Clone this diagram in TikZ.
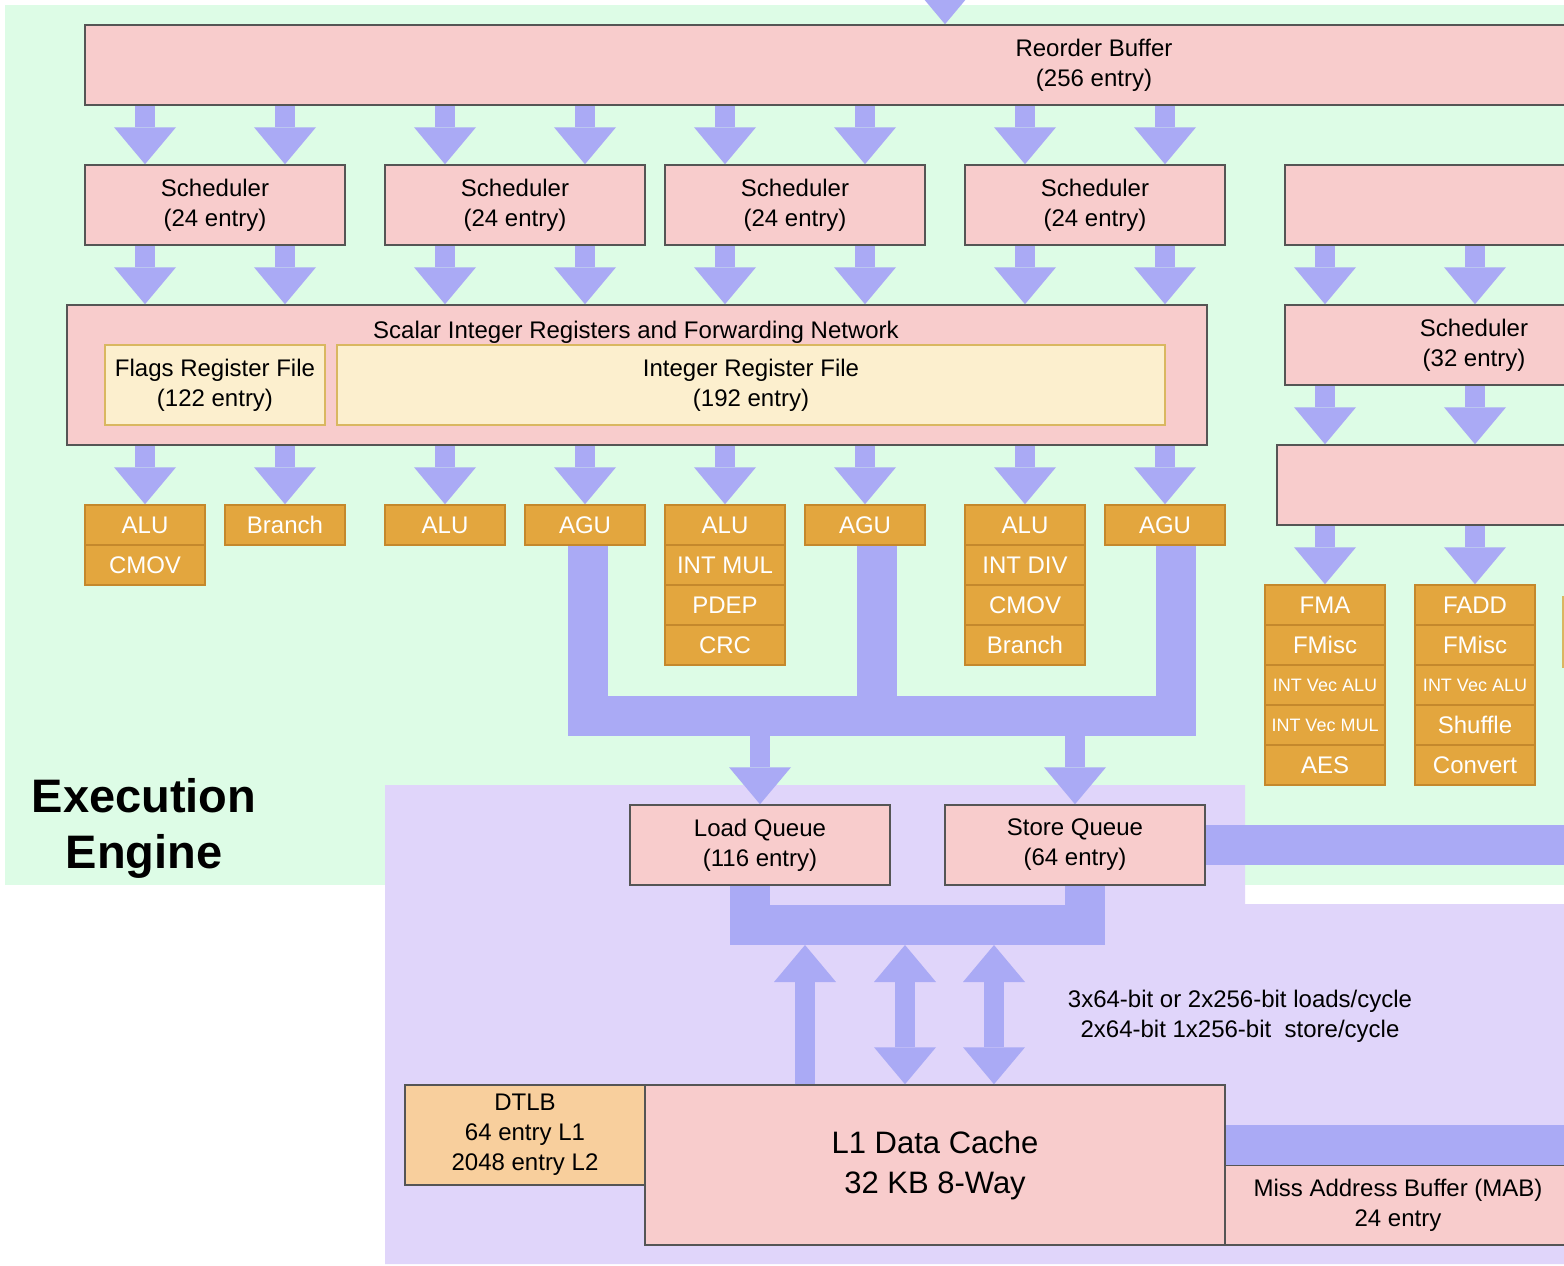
\documentclass[tikz,border=0pt]{standalone}
\usepackage{fontspec}
\setmainfont{Liberation Sans}
\usetikzlibrary{arrows.meta,calc}
\definecolor{bggreen}{HTML}{DDFCE6}
\definecolor{bgpurple}{HTML}{E0D5FA}
\definecolor{pinkc}{HTML}{F8CCCC}
\definecolor{bordc}{HTML}{555555}
\definecolor{unitc}{HTML}{E3A63E}
\definecolor{unitbord}{HTML}{C4882C}
\definecolor{arrc}{HTML}{AAAAF5}
\definecolor{regc}{HTML}{FCEFCE}
\definecolor{regbord}{HTML}{D9B760}
\definecolor{dtlbc}{HTML}{F8CF9D}
\newcommand\fsnorm{\fontsize{24}{30}\selectfont}
\newcommand\fssmall{\fontsize{18}{22}\selectfont}
\newcommand\fsbig{\fontsize{31}{40}\selectfont}
\newcommand\fstitle{\fontsize{47}{56}\selectfont\bfseries}
\begin{document}
\begin{tikzpicture}[x=1pt,y=-1pt,
  pbox/.style={draw=bordc, fill=pinkc, line width=1.5pt, inner sep=0pt, align=center, font=\fsnorm},
  regbox/.style={draw=regbord, fill=regc, line width=1.5pt, inner sep=0pt, align=center, font=\fsnorm, minimum height=80pt},
  unit/.style={draw=unitbord, fill=unitc, text=white, line width=1.5pt, minimum width=120pt, minimum height=40pt, inner sep=0pt, font=\fsnorm},
  sunit/.style={unit, font=\fssmall},
  arr/.style={draw=arrc, line width=20pt, -{Triangle[width=62pt,length=37pt,line width=0pt,fill=arrc]}},
  darr/.style={draw=arrc, line width=20pt, {Triangle[width=62pt,length=37pt,line width=0pt,fill=arrc]}-{Triangle[width=62pt,length=37pt,line width=0pt,fill=arrc]}},
  bus/.style={draw=arrc, line width=40pt, line join=miter}
]
\path[use as bounding box] (0,0) rectangle (1564,1266);
\clip (0,0) rectangle (1564,1266);
\fill[white] (0,0) rectangle (1564,1266);
% regions
\fill[bggreen] (5,5) rectangle (1570,885);
\fill[bgpurple] (385,785) -- (1245,785) -- (1245,904) -- (1570,904) -- (1570,1264) -- (385,1264) -- cycle;

% columns
\foreach \i/\x in {1/145,2/285,3/445,4/585,5/725,6/865,7/1025,8/1165,9/1325,10/1475}
  \coordinate (k\i) at (\x,0);

% main boxes
\node[pbox, minimum width=2018pt, minimum height=80pt] (rob) at (1094,65) {Reorder Buffer\\(256 entry)};
\node[pbox, minimum width=260pt, minimum height=80pt] (s1) at (215,205) {Scheduler\\(24 entry)};
\node[pbox, minimum width=260pt, minimum height=80pt] (s2) at (515,205) {Scheduler\\(24 entry)};
\node[pbox, minimum width=260pt, minimum height=80pt] (s3) at (795,205) {Scheduler\\(24 entry)};
\node[pbox, minimum width=260pt, minimum height=80pt] (s4) at (1095,205) {Scheduler\\(24 entry)};
\node[pbox, minimum width=378pt, minimum height=80pt] (s5) at (1474,205) {};
\node[pbox, minimum width=1140pt, minimum height=140pt] (sir) at (637,375) {};
\node[font=\fsnorm, inner sep=0pt] (sirt) at (636,332) {Scalar Integer Registers and Forwarding Network};
\node[regbox, minimum width=220pt] (flags) at (215,385) {Flags Register File\\(122 entry)};
\node[regbox, minimum width=828pt] (irf) at (751,385) {Integer Register File\\(192 entry)};
\node[pbox, minimum width=378pt, minimum height=80pt] (fsch) at (1474,345) {Scheduler\\(32 entry)};
\node[pbox, minimum width=394pt, minimum height=80pt] (freg) at (1474,485) {};

% integer units
\node[unit] (u1a) at (145,525) {ALU};
\node[unit] (u1b) at (145,565) {CMOV};
\node[unit] (u2) at (285,525) {Branch};
\node[unit] (u3) at (445,525) {ALU};
\node[unit] (u4) at (585,525) {AGU};
\node[unit] (u5a) at (725,525) {ALU};
\node[unit] (u5b) at (725,565) {INT MUL};
\node[unit] (u5c) at (725,605) {PDEP};
\node[unit] (u5d) at (725,645) {CRC};
\node[unit] (u6) at (865,525) {AGU};
\node[unit] (u7a) at (1025,525) {ALU};
\node[unit] (u7b) at (1025,565) {INT DIV};
\node[unit] (u7c) at (1025,605) {CMOV};
\node[unit] (u7d) at (1025,645) {Branch};
\node[unit] (u8) at (1165,525) {AGU};
% fp units
\node[unit] (f1a) at (1325,605) {FMA};
\node[unit] (f1b) at (1325,645) {FMisc};
\node[sunit] (f1c) at (1325,685) {INT Vec ALU};
\node[sunit] (f1d) at (1325,725) {INT Vec MUL};
\node[unit] (f1e) at (1325,765) {AES};
\node[unit] (f2a) at (1475,605) {FADD};
\node[unit] (f2b) at (1475,645) {FMisc};
\node[sunit] (f2c) at (1475,685) {INT Vec ALU};
\node[unit] (f2d) at (1475,725) {Shuffle};
\node[unit] (f2e) at (1475,765) {Convert};
\node[draw=regbord, fill=regc, line width=1.5pt, minimum width=60pt, minimum height=70pt, inner sep=0pt] (f3) at (1593,632) {};

% arrows: top
\coordinate (topin) at (945,-60);
\draw[arr] (topin) -- (rob.north -| topin);
\foreach \k/\s in {1/s1,2/s1,3/s2,4/s2,5/s3,6/s3,7/s4,8/s4}
  \draw[arr] (rob.south -| k\k) -- (\s.north -| k\k);
\foreach \k/\s in {1/s1,2/s1,3/s2,4/s2,5/s3,6/s3,7/s4,8/s4}
  \draw[arr] (\s.south -| k\k) -- (sir.north -| k\k);
\foreach \k/\u in {1/u1a,2/u2,3/u3,4/u4,5/u5a,6/u6,7/u7a,8/u8}
  \draw[arr] (sir.south -| k\k) -- (\u.north);
\draw[arr] (s5.south -| k9) -- (fsch.north -| k9);
\draw[arr] (s5.south -| k10) -- (fsch.north -| k10);
\draw[arr] (fsch.south -| k9) -- (freg.north -| k9);
\draw[arr] (fsch.south -| k10) -- (freg.north -| k10);
\draw[arr] (freg.south -| k9) -- (f1a.north);
\draw[arr] (freg.south -| k10) -- (f2a.north);

% memory
\node[pbox, minimum width=260pt, minimum height=80pt] (lq) at (760,845) {Load Queue\\(116 entry)};
\node[pbox, minimum width=260pt, minimum height=80pt] (sq) at (1075,845) {Store Queue\\(64 entry)};
\node[pbox, fill=dtlbc, minimum width=240pt, minimum height=100pt] (dtlb) at (525,1135) {DTLB\\64 entry L1\\2048 entry L2};
\node[pbox, minimum width=580pt, minimum height=160pt, font=\fsbig] (l1) at (935,1165) {L1 Data Cache\\32 KB 8-Way};
\node[pbox, minimum width=346pt, minimum height=80pt] (mab) at (1398,1205) {Miss Address Buffer (MAB)\\24 entry};

% AGU bus
\coordinate (bx1) at (588,0);
\coordinate (bx2) at (877,0);
\coordinate (bx3) at (1176,0);
\coordinate (bmid) at (0,716);
\coordinate (bbot) at (0,736);
\draw[bus] (u4.south -| bx1) |- (bmid -| bx3) -- (u8.south -| bx3);
\draw[bus] (u6.south -| bx2) -- (bmid -| bx2);
\fill[arrc] (857,716) rectangle (897,736);
\draw[arr] (bbot -| lq.north) -- (lq.north);
\draw[arr] (bbot -| sq.north) -- (sq.north);

% store queue out
\coordinate (sqout) at (1620,845);
\draw[draw=arrc, line width=40pt] (sq.east) -- (sqout);

% LSU bus
\coordinate (ubus) at (900,925);
\coordinate (ubot) at (0,945);
\draw[bus] ([xshift=-10pt]lq.south) |- (ubus) -| ([xshift=10pt]sq.south);
\coordinate (a1) at (805,0);
\coordinate (a2) at (905,0);
\coordinate (a3) at (994,0);
\draw[arr] (l1.north -| a1) -- (ubot -| a1);
\draw[darr] (l1.north -| a2) -- (ubot -| a2);
\draw[darr] (l1.north -| a3) -- (ubot -| a3);

% L1 out
\coordinate (l1out) at (1620,1145);
\draw[draw=arrc, line width=40pt] (l1.east |- l1out) -- (l1out);

\node[font=\fsnorm, align=center, inner sep=0pt] (bw) at (1240,1016) {3x64-bit or 2x256-bit loads/cycle\\2x64-bit 1x256-bit\ \ store/cycle};
\node[font=\fstitle, align=center, inner sep=0pt] (ee) at (144,828) {Execution\\Engine};
\end{tikzpicture}
\end{document}
